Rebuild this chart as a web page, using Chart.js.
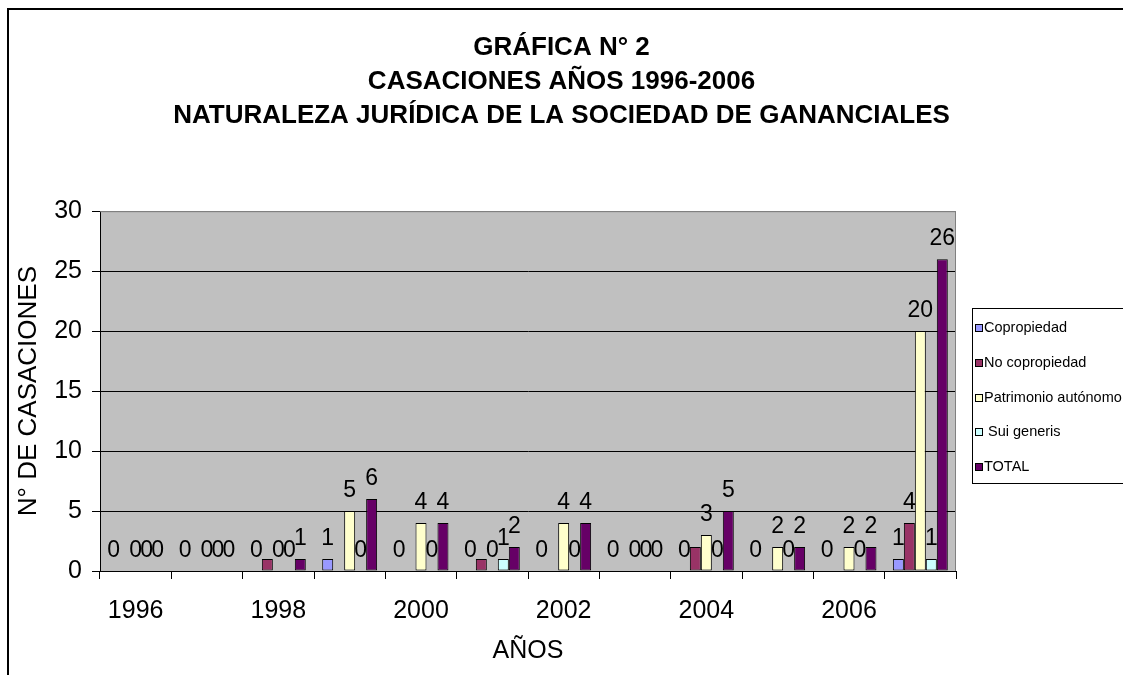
<!DOCTYPE html>
<html><head><meta charset="utf-8">
<script src="https://cdn.jsdelivr.net/npm/chart.js@4.4.1/dist/chart.umd.min.js"></script>
<style>html,body{margin:0;padding:0;background:#fff;overflow:hidden}#wrap{width:1123px;height:675px;position:relative}</style>
</head><body><div id="wrap"><canvas id="c" width="1123" height="675"></canvas></div>
<script>
const categories = ['1996','1997','1998','1999','2000','2001','2002','2003','2004','2005','2006','TOTAL'];
const tickLabels = ['1996','','1998','','2000','','2002','','2004','','2006',''];
const copropiedad   = [0,0,0,1,0,0,0,0,0,0,0,1];
const noCopropiedad = [0,0,1,0,0,1,0,0,2,0,0,4];
const patrimonio    = [0,0,0,5,4,0,4,0,3,2,2,20];
const suiGeneris    = [0,0,0,0,0,1,0,0,0,0,0,1];
const total         = [0,0,1,6,4,2,4,0,5,2,2,26];
const seriesNames = ['Copropiedad','No copropiedad','Patrimonio autónomo',' Sui generis','TOTAL'];
const titleLines = ['GRÁFICA N° 2','CASACIONES AÑOS 1996-2006','NATURALEZA JURÍDICA DE LA SOCIEDAD DE GANANCIALES'];
const yTitle = 'N° DE CASACIONES';
const xTitle = 'AÑOS';

const colors = ['#9999FF','#993366','#FFFFCC','#CCFFFF','#660066'];
const seriesData = [copropiedad, noCopropiedad, patrimonio, suiGeneris, total];
const FONT = "'Liberation Sans', Arial, sans-serif";

const framePlugin = {
  id: 'frame',
  beforeDraw(chart) {
    const {ctx, chartArea: a} = chart;
    ctx.save();
    ctx.fillStyle = '#fff';
    ctx.fillRect(0, 0, chart.width, chart.height);
    ctx.strokeStyle = '#000';
    ctx.lineWidth = 2;
    ctx.strokeRect(8, 9, chart.width + 40, chart.height + 40);
    ctx.fillStyle = '#C0C0C0';
    ctx.fillRect(a.left, a.top, a.right - a.left, a.bottom - a.top);
    ctx.restore();
  },
  beforeDatasetsDraw(chart) {
    const {ctx, chartArea: a} = chart;
    ctx.save();
    ctx.strokeStyle = '#808080';
    ctx.lineWidth = 1;
    ctx.beginPath();
    ctx.moveTo(a.left, a.top + 0.5);
    ctx.lineTo(a.right - 0.5, a.top + 0.5);
    ctx.lineTo(a.right - 0.5, a.bottom);
    ctx.stroke();
    ctx.restore();
  }
};

const labelPlugin = {
  id: 'valueLabels',
  afterDatasetsDraw(chart) {
    const ctx = chart.ctx;
    ctx.save();
    ctx.font = "23px " + FONT;
    ctx.fillStyle = '#000';
    ctx.textAlign = 'center';
    ctx.textBaseline = 'alphabetic';
    chart.data.datasets.forEach((ds, di) => {
      const meta = chart.getDatasetMeta(di);
      meta.data.forEach((bar, i) => {
        if (ds.label === 'No copropiedad' && i !== categories.length - 1) return;
        ctx.fillText(String(ds.data[i]), bar.x, bar.y - 14);
      });
    });
    ctx.restore();
  }
};

const legendPlugin = {
  id: 'boxLegend',
  afterDraw(chart) {
    const ctx = chart.ctx;
    ctx.save();
    const bx = 972.5, by = 308.5, bw = 200, bh = 175;
    ctx.fillStyle = '#fff';
    ctx.fillRect(bx, by, bw, bh);
    ctx.strokeStyle = '#000';
    ctx.lineWidth = 1;
    ctx.strokeRect(bx, by, bw, bh);
    ctx.font = "14.5px " + FONT;
    ctx.textBaseline = 'middle';
    ctx.textAlign = 'left';
    chart.data.datasets.forEach((ds, i) => {
      const cy = 328 + i * 34.8;
      ctx.fillStyle = ds.backgroundColor;
      ctx.fillRect(975.5, Math.round(cy) - 3.5, 7, 7);
      ctx.strokeStyle = '#000';
      ctx.strokeRect(975.5, Math.round(cy) - 3.5, 7, 7);
      ctx.fillStyle = '#000';
      ctx.fillText(ds.label, 984, cy);
    });
    ctx.restore();
  }
};

new Chart(document.getElementById('c'), {
  type: 'bar',
  data: {
    labels: categories,
    datasets: seriesNames.map((n, i) => ({
      label: n,
      data: seriesData[i],
      backgroundColor: colors[i],
      borderColor: '#000',
      borderWidth: 1,
      borderSkipped: false,
      categoryPercentage: 0.77,
      barPercentage: 1.0
    }))
  },
  options: {
    responsive: false,
    animation: false,
    devicePixelRatio: 1,
    layout: { padding: { left: 0, right: 0, top: 0, bottom: 0 } },
    plugins: {
      legend: { display: false },
      tooltip: { enabled: false },
      title: {
        display: true,
        text: titleLines,
        color: '#000',
        font: { family: "'Liberation Sans Narrow', 'Arial Narrow', 'Liberation Sans', sans-serif", size: 26, weight: 'bold', lineHeight: 1.31 },
        padding: { top: 31, bottom: 78 }
      }
    },
    scales: {
      x: {
        offset: true,
        border: { display: true, color: '#000', width: 1 },
        grid: { display: true, offset: true, drawOnChartArea: false, drawTicks: true, tickLength: 8, color: '#000', tickColor: '#000' },
        ticks: {
          autoSkip: false, maxRotation: 0, minRotation: 0, padding: 17,
          color: '#000', font: { family: FONT, size: 25 },
          callback: (v, i) => tickLabels[i]
        },
        title: { display: true, text: xTitle, color: '#000', font: { family: FONT, size: 25 }, padding: { top: 0, bottom: 9 } },
        afterFit: (s) => { s.height = 104; }
      },
      y: {
        min: 0, max: 30,
        border: { display: true, color: '#000', width: 1 },
        grid: {
          color: (c) => (c.tick && c.tick.value === 30) ? '#808080' : '#000',
          tickColor: '#000', tickLength: 8, drawTicks: true
        },
        ticks: { stepSize: 5, padding: 10, color: '#000', font: { family: FONT, size: 25 } },
        title: { display: true, text: yTitle, color: '#000', font: { family: FONT, size: 26 }, padding: { top: 13, bottom: 0 } },
        afterFit: (s) => { s.width = 100; }
      },
      yRight: {
        position: 'right',
        display: true,
        grid: { display: false, drawTicks: false },
        border: { display: false },
        ticks: { display: false },
        afterFit: (s) => { s.width = 167; }
      }
    }
  },
  plugins: [framePlugin, labelPlugin, legendPlugin]
});
</script>
</body></html>
